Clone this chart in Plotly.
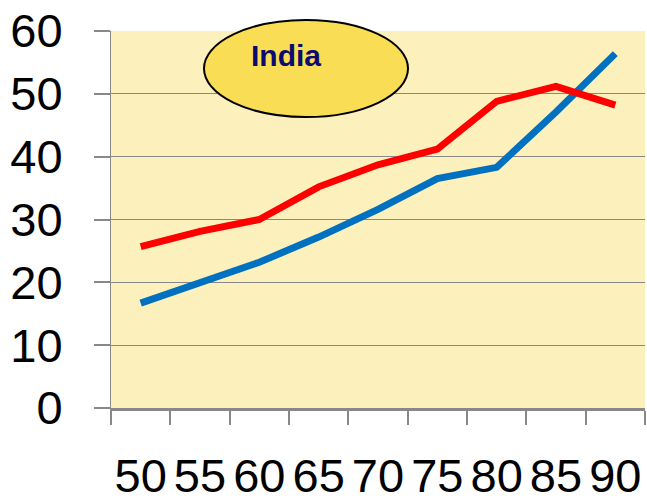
import plotly.graph_objects as go

years = ["50", "55", "60", "65", "70", "75", "80", "85", "90"]
blue_series = [16.7, 19.9, 23.2, 27.2, 31.6, 36.5, 38.3, 47.1, 56.4]
red_series = [25.7, 28.1, 30.0, 35.2, 38.7, 41.2, 48.8, 51.2, 48.2]
y_ticks = [0, 10, 20, 30, 40, 50, 60]
title_text = "India"

W, H = 647, 498
L, R, T, B = 111, 2, 31, 90

fig = go.Figure()
fig.add_trace(go.Scatter(x=years, y=blue_series, mode="lines",
                         line=dict(color="#0070C0", width=7), showlegend=False))
fig.add_trace(go.Scatter(x=years, y=red_series, mode="lines",
                         line=dict(color="#FF0000", width=7), showlegend=False))

pw, ph = W - L - R, H - T - B


def px_x(p):
    return (p - L) / pw


def px_y(p):
    return (H - B - p) / ph


# yellow ellipse label
fig.add_shape(type="circle", xref="paper", yref="paper",
              x0=px_x(204), x1=px_x(408), y0=px_y(117), y1=px_y(20),
              fillcolor="#F9DD55", line=dict(color="black", width=2), layer="above")
fig.add_annotation(xref="paper", yref="paper", x=px_x(286), y=px_y(56),
                   xanchor="center", yanchor="middle",
                   text="<b>" + title_text + "</b>", showarrow=False,
                   font=dict(family="Arial, Liberation Sans", size=30, color="#0B0B70"))

fig.update_layout(
    width=W, height=H,
    margin=dict(l=L, r=R, t=T, b=B),
    paper_bgcolor="white",
    plot_bgcolor="#FCF1BD",
    font=dict(family="Arial, Liberation Sans", color="black"),
    xaxis=dict(type="category", tickson="boundaries", ticks="outside", ticklen=14,
               tickwidth=2, tickcolor="#888888", showgrid=False, showline=True,
               linecolor="#888888", linewidth=3, tickfont=dict(size=47),
               tickangle=0, automargin=False,
               ticklabelstandoff=25, range=[-0.5, 8.5], zeroline=False),
    yaxis=dict(range=[0, 60], tickvals=y_ticks, ticks="outside", ticklen=16,
               tickwidth=2, tickcolor="#888888", showgrid=True, gridcolor="#888888",
               gridwidth=1, showline=True, linecolor="#888888", linewidth=1,
               automargin=False,
               tickfont=dict(size=47), ticklabelstandoff=22, zeroline=False),
)

fig.write_html("out.html")
